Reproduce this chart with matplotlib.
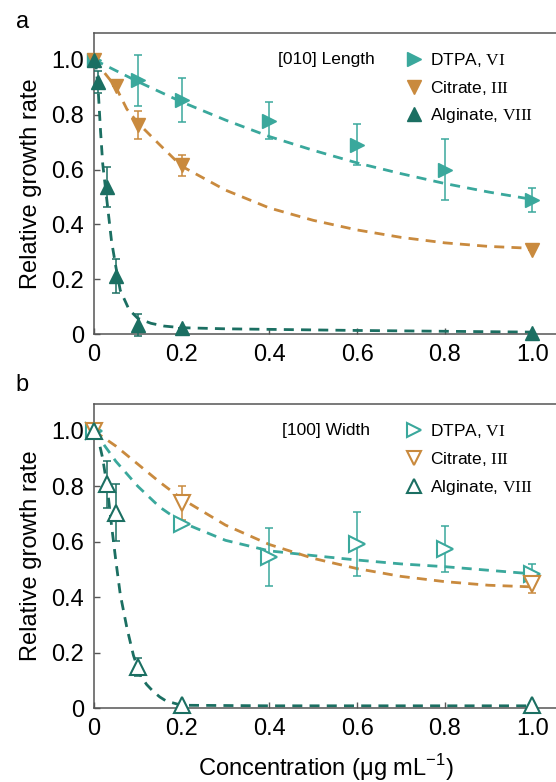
import matplotlib
matplotlib.use("Agg")
import matplotlib.pyplot as plt
from matplotlib.lines import Line2D

plt.rcParams['font.family'] = ['Liberation Sans', 'DejaVu Sans']
plt.rcParams['mathtext.fontset'] = 'custom'
plt.rcParams['mathtext.rm'] = 'Liberation Serif'
plt.rcParams['mathtext.sf'] = 'Liberation Sans'

# couleurs
c_dtpa = '#3aa89c'
c_cit = '#c98a3e'
c_alg = '#1b6f62'

# ---- panneau a : [010] Length ----
a_dtpa_x = [0, 0.1, 0.2, 0.4, 0.6, 0.8, 1.0]
a_dtpa_y = [1.0, 0.925, 0.853, 0.778, 0.691, 0.60, 0.488]
a_dtpa_e = [0, 0.093, 0.079, 0.068, 0.075, 0.11, 0.043]

a_cit_x = [0, 0.05, 0.1, 0.2, 1.0]
a_cit_y = [1.0, 0.905, 0.762, 0.615, 0.308]
a_cit_e = [0, 0, 0.05, 0.038, 0]

a_alg_x = [0, 0.01, 0.03, 0.05, 0.1, 0.2, 1.0]
a_alg_y = [1.0, 0.92, 0.537, 0.213, 0.034, 0.022, 0.004]
a_alg_e = [0, 0.04, 0.072, 0.062, 0.04, 0, 0]

# courbes d'ajustement
a_dtpa_fx = [0, 0.1, 0.2, 0.3, 0.4, 0.5, 0.6, 0.7, 0.8, 0.9, 1.0]
a_dtpa_fy = [1.0, 0.92, 0.846, 0.78, 0.72, 0.67, 0.624, 0.585, 0.549, 0.518, 0.491]
a_cit_fx = [0, 0.025, 0.05, 0.075, 0.1, 0.15, 0.2, 0.3, 0.4, 0.5, 0.6, 0.7, 0.8, 0.9, 1.0]
a_cit_fy = [1.0, 0.95, 0.90, 0.82, 0.77, 0.69, 0.612, 0.525, 0.46, 0.415, 0.38, 0.353, 0.333, 0.32, 0.313]
a_alg_fx = [0, 0.005, 0.01, 0.015, 0.02, 0.03, 0.04, 0.05, 0.06, 0.08, 0.10, 0.13, 0.16, 0.2, 0.3, 0.4, 0.6, 0.8, 1.0]
a_alg_fy = [1.0, 0.97, 0.88, 0.74, 0.62, 0.48, 0.34, 0.245, 0.16, 0.09, 0.058, 0.04, 0.03, 0.024, 0.02, 0.018, 0.014, 0.011, 0.008]

# ---- panneau b : [100] Width ----
b_dtpa_x = [0, 0.2, 0.4, 0.6, 0.8, 1.0]
b_dtpa_y = [1.0, 0.665, 0.544, 0.591, 0.574, 0.484]
b_dtpa_e = [0, 0, 0.105, 0.116, 0.083, 0.034]

b_cit_x = [0, 0.2, 1.0]
b_cit_y = [1.0, 0.74, 0.448]
b_cit_e = [0, 0.06, 0.032]

b_alg_x = [0, 0.03, 0.05, 0.1, 0.2, 1.0]
b_alg_y = [1.0, 0.807, 0.705, 0.148, 0.01, 0.01]
b_alg_e = [0, 0.085, 0.104, 0.034, 0, 0]

b_dtpa_fx = [0, 0.05, 0.1, 0.15, 0.2, 0.3, 0.4, 0.5, 0.6, 0.7, 0.8, 0.9, 1.0]
b_dtpa_fy = [1.0, 0.89, 0.80, 0.725, 0.67, 0.605, 0.567, 0.55, 0.534, 0.52, 0.51, 0.497, 0.484]
b_cit_fx = [0, 0.05, 0.1, 0.15, 0.2, 0.3, 0.4, 0.5, 0.6, 0.7, 0.8, 0.9, 1.0]
b_cit_fy = [1.0, 0.945, 0.88, 0.815, 0.755, 0.66, 0.59, 0.54, 0.503, 0.475, 0.456, 0.443, 0.437]
b_alg_fx = [0, 0.01, 0.02, 0.03, 0.04, 0.05, 0.06, 0.075, 0.09, 0.105, 0.12, 0.135, 0.15, 0.165, 0.2, 0.4, 0.6, 0.8, 1.0]
b_alg_fy = [1.0, 0.97, 0.9, 0.8, 0.66, 0.53, 0.41, 0.29, 0.19, 0.12, 0.085, 0.06, 0.04, 0.025, 0.01, 0.008, 0.008, 0.008, 0.008]

x_ticks = [0, 0.2, 0.4, 0.6, 0.8, 1.0]
x_labels = ['0', '0.2', '0.4', '0.6', '0.8', '1.0']
y_ticks = [0, 0.2, 0.4, 0.6, 0.8, 1.0]
y_labels = ['0', '0.2', '0.4', '0.6', '0.8', '1.0']

legend_labels = [r'DTPA, $\mathrm{VI}$', r'Citrate, $\mathrm{III}$', r'Alginate, $\mathrm{VIII}$']


def panel(ax, series, fits, title, filled):
    markers = ['>', 'v', '^']
    colors = [c_dtpa, c_cit, c_alg]
    # courbes en tirets
    for (fx, fy), col in zip(fits, colors):
        ax.plot(fx, fy, color=col, lw=2.0, dashes=(3.6, 2.6), zorder=2, clip_on=False)
    # points avec barres d'erreur
    for (x, y, e), m, col in zip(series, markers, colors):
        ax.errorbar(x, y, yerr=e, fmt='none', ecolor=col, elinewidth=1.1,
                    capsize=3.2, capthick=1.1, zorder=3, clip_on=False)
        if filled:
            ax.plot(x, y, linestyle='none', marker=m, ms=10.5, color=col,
                    mec=col, zorder=4, clip_on=False)
        else:
            ax.plot(x, y, linestyle='none', marker=m, ms=11, mfc='white',
                    mec=col, mew=1.5, zorder=4, clip_on=False)

    handles = []
    for m, col in zip(markers, colors):
        if filled:
            handles.append(Line2D([], [], linestyle='none', marker=m, ms=9.5, color=col))
        else:
            handles.append(Line2D([], [], linestyle='none', marker=m, ms=10,
                                  mfc='none', mec=col, mew=1.5))
    ax.legend(handles, legend_labels, loc='upper left', bbox_to_anchor=(0.655, 0.962),
              frameon=False, fontsize=12.5, handlelength=1.0, handletextpad=0.4,
              labelspacing=0.55, borderaxespad=0)

    ax.text(0.53, 1.0, title, fontsize=12.5, ha='center', va='center')

    ax.set_xlim(0, 1.06)
    ax.set_ylim(0, 1.097)
    ax.set_xticks(x_ticks)
    ax.set_xticklabels(x_labels)
    ax.set_yticks(y_ticks)
    ax.set_yticklabels(y_labels)
    ax.tick_params(direction='in', length=4, width=1, labelsize=17, pad=7, color='#555555')
    ax.set_ylabel('Relative growth rate', fontsize=17, labelpad=7)
    ax.spines['right'].set_visible(False)
    for s in ['left', 'top', 'bottom']:
        ax.spines[s].set_color('#555555')
        ax.spines[s].set_linewidth(1.1)


fig = plt.figure(figsize=(5.56, 7.82), dpi=100)
ax_a = fig.add_axes([0.169, 0.5725, 0.836, 0.3853])
ax_b = fig.add_axes([0.169, 0.0946, 0.836, 0.3888])

panel(ax_a,
      [(a_dtpa_x, a_dtpa_y, a_dtpa_e), (a_cit_x, a_cit_y, a_cit_e), (a_alg_x, a_alg_y, a_alg_e)],
      [(a_dtpa_fx, a_dtpa_fy), (a_cit_fx, a_cit_fy), (a_alg_fx, a_alg_fy)],
      '[010] Length', True)
panel(ax_b,
      [(b_dtpa_x, b_dtpa_y, b_dtpa_e), (b_cit_x, b_cit_y, b_cit_e), (b_alg_x, b_alg_y, b_alg_e)],
      [(b_dtpa_fx, b_dtpa_fy), (b_cit_fx, b_cit_fy), (b_alg_fx, b_alg_fy)],
      '[100] Width', False)

ax_b.set_xlabel(r'Concentration (μg mL$^{\mathsf{-1}}$)', fontsize=17, labelpad=9)

fig.text(0.04, 0.972, 'a', fontsize=17, ha='center', va='center')
fig.text(0.04, 0.508, 'b', fontsize=17, ha='center', va='center')

fig.savefig('out.png', dpi=100)
